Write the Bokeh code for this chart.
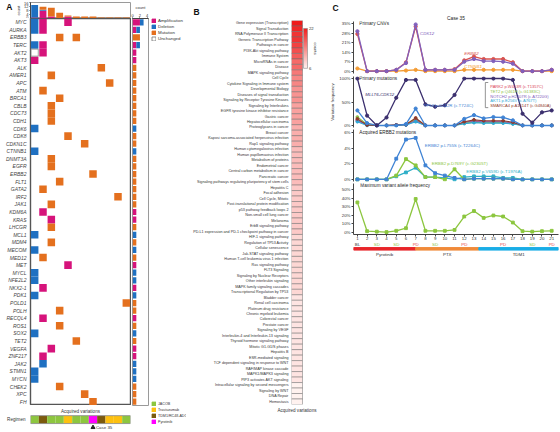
import numpy as np
from bokeh.plotting import figure
from bokeh.layouts import row, column
from bokeh.models import (FactorRange, Range1d, FixedTicker, Label, Legend, LegendItem,
                          LinearColorMapper, ColumnDataSource, Title, LinearAxis)
from bokeh.transform import transform
from bokeh.embed import file_html
from bokeh.resources import INLINE

FONT = "Liberation Sans"
W_END, H_END = 559, 431


def px(v):
    return int(round(v))


def fs(v):
    return f"{v:.2f}px"


# ---------------- Panel A data ----------------
genes = ["MYC", "AURKA", "ERBB3", "TERC", "AKT2", "AKT3", "ALK", "AMER1", "APC", "ATM", "BRCA1",
         "CBLB", "CDC73", "CDH1", "CDK6", "CDK8", "CDKN1C", "CTNNB1", "DNMT3A", "EGFR", "ERBB2",
         "FLT1", "GATA2", "IRF2", "JAK1", "KDM6A", "KRAS", "LHCGR", "MCL1", "MDM4", "MECOM",
         "MED12", "MET", "MYCL", "NFE2L2", "NKX2-1", "PDK1", "POLD1", "POLH", "RECQL4", "ROS1",
         "SOX2", "TET2", "VEGFA", "ZNF217", "JAK2", "STMN1", "MYCN", "CHEK2", "XPC", "FH"]
amp_genes = ["MYC", "MYC", "AURKA", "TERC", "AKT2", "AKT3", "KDM6A", "KRAS", "MET", "NKX2-1",
             "RECQL4", "VEGFA", "ZNF217"]
amp_cols = [2, 5, 2, 2, 2, 1, 2, 3, 5, 2, 2, 3, 2]
del_genes = ["MYC", "AURKA", "TERC", "CDK6", "CTNNB1", "MCL1", "MECOM", "MYCL", "NFE2L2", "PDK1",
             "SOX2", "JAK2", "STMN1", "MYCN"]
del_cols = [1, 1, 1, 1, 1, 1, 1, 1, 1, 1, 1, 2, 1, 1]
mut_genes = ["ERBB3", "ERBB3", "ALK", "AMER1", "APC", "ATM", "BRCA1", "CBLB", "CDC73", "CDH1",
             "CDK8", "CDKN1C", "DNMT3A", "EGFR", "ERBB2", "FLT1", "GATA2", "IRF2", "JAK1", "LHCGR",
             "MDM4", "MED12", "POLD1", "POLH", "ROS1", "TET2", "CHEK2", "XPC", "FH"]
mut_cols = [4, 6, 9, 3, 10, 2, 4, 3, 3, 3, 5, 7, 3, 3, 8, 4, 2, 11, 3, 3, 3, 2, 12, 4, 4, 6, 4, 7, 8]
unch_genes = ["AKT2"]
unch_cols = [1]
n_cols = 12
regimen = ["JACOB", "TDM1/RC48-ADC", "JACOB", "JACOB", "Trastuzumab", "JACOB", "JACOB",
           "Pyrotinib", "TDM1/RC48-ADC", "Trastuzumab", "Trastuzumab", "JACOB"]
regimen_names = ["JACOB", "Trastuzumab", "TDM1/RC48-ADC", "Pyrotinib"]
case_col = 8
case_label = "Case 35"

# ---------------- Panel B data ----------------
pathways = [
    "Gene expression (Transcription)", "Signal Transduction", "RNA Polymerase II Transcription",
    "Generic Transcription Pathway", "Pathways in cancer", "PI3K-Akt signaling pathway",
    "Immune System", "MicroRNAs in cancer", "Disease", "MAPK signaling pathway", "Cell Cycle",
    "Cytokine Signaling in Immune system", "Developmental Biology",
    "Diseases of signal transduction", "Signaling by Receptor Tyrosine Kinases",
    "Signaling by Interleukins", "EGFR tyrosine kinase inhibitor resistance", "Gastric cancer",
    "Hepatocellular carcinoma", "Proteoglycans in cancer", "Breast cancer",
    "Kaposi sarcoma-associated herpesvirus infection", "Rap1 signaling pathway",
    "Human cytomegalovirus infection", "Human papillomavirus infection", "Metabolism of proteins",
    "Endometrial cancer", "Central carbon metabolism in cancer", "Pancreatic cancer",
    "Signaling pathways regulating pluripotency of stem cells", "Hepatitis C", "Focal adhesion",
    "Cell Cycle, Mitotic", "Post-translational protein modification",
    "p53 pathway feedback loops 2", "Non-small cell lung cancer", "Melanoma",
    "ErbB signaling pathway", "PD-L1 expression and PD-1 checkpoint pathway in cancer",
    "HIF-1 signaling pathway", "Regulation of TP53 Activity", "Cellular senescence",
    "Jak-STAT signaling pathway", "Human T-cell leukemia virus 1 infection",
    "Ras signaling pathway", "FLT3 Signaling", "Signaling by Nuclear Receptors",
    "Other interleukin signaling", "MAPK family signaling cascades",
    "Transcriptional Regulation by TP53", "Bladder cancer", "Renal cell carcinoma",
    "Platinum drug resistance", "Chronic myeloid leukemia", "Colorectal cancer",
    "Prostate cancer", "Signaling by VEGF", "Interleukin-4 and Interleukin-13 signaling",
    "Thyroid hormone signaling pathway", "Mitotic G1-G1/S phases", "Hepatitis B",
    "ESR-mediated signaling", "TCF dependent signaling in response to WNT",
    "RAF/MAP kinase cascade", "MAPK1/MAPK3 signaling", "PIP3 activates AKT signaling",
    "Intracellular signaling by second messengers", "Signaling by WNT", "DNA Repair",
    "Hemostasis"]
pathway_counts = [22, 21, 20, 20, 19, 18, 17, 16, 16, 15, 14, 14, 13, 13, 13, 12, 12, 12, 12, 11,
                  11, 11, 11, 10, 10, 10, 10, 10, 10, 10, 9, 9, 9, 9, 9, 9, 9, 9, 9, 8,
                  8, 8, 8, 8, 8, 8, 8, 8, 8, 8, 7, 7, 7, 7, 7, 7, 7, 7, 7, 7,
                  7, 7, 7, 7, 7, 7, 6, 6, 6, 6]
count_ticks = [6, 22]

# ---------------- Panel C data ----------------
tp = list(range(1, 22))
cnv_cdk12 = [29.5, 0, 0, 0, 1, 6, 34.5, 1, 1, 1, 1, 7, 9, 7.5, 7.5, 7, 5.5, 0, 0, 0, 1]
cnv_erbb2 = [27.5, 0, 0, 0, 1, 6.5, 33, 1, 1, 1, 1.5, 8, 10.8, 9, 9, 9, 6.6, 0, 0, 0, 1]
cnv_ctnnb1 = [2, 0, 0, 0, 0, 0.5, 1, 0, 0, 0, 0, 1, 1, 1, 1, 1, 1, 0, 0, 0, 0]
mut_mllt6 = [100, 21, 0, 17, 59, 97, 97, 45, 40, 43, 65, 100, 100, 100, 100, 100, 97, 25, 6, 28, 32]
mut_tp53 = [32, 5, 0, 0, 0, 3, 36, 0, 0, 0, 0, 14, 22, 15, 18, 17, 11, 0, 0, 0, 0]
mut_park2 = [12, 1, 0, 0, 1, 2, 12, 0, 0, 0, 0, 6, 9, 8, 8, 8, 5, 0, 0, 0, 0]
mut_tet2 = [18, 2, 0, 0, 1, 2, 14, 0, 0, 0, 0, 5, 7, 6, 6, 6, 4, 0, 0, 0, 0]
mut_notch2 = [10, 1, 0, 0, 1, 1, 10, 0, 0, 0, 0, 7, 10, 8, 8, 8, 6, 0, 0, 0, 0]
mut_akt1 = [8, 0, 0, 0, 0, 1, 8, 0, 0, 0, 0, 4, 6, 5, 5, 5, 3, 0, 0, 0, 0]
mut_smarca4 = [14, 1, 0, 0, 1, 2, 16, 0, 0, 0, 0, 8, 12, 10, 10, 10, 7, 0, 0, 0, 0]
box_labels = ["PARK2 p.W453R (c.T1357C)", "TET2 p.Q461H (c.G1383C)", "NOTCH2 p.H2407R (c.A7220G)",
              "AKT1 p.E256V (c.A767T)", "SMARCA4 p.A1614T (c.G4840A)"]
erbb2_l755s = [0, 0, 0, 0, 2.65, 5.1, 5.3, 1.8, 0.8, 0.5, 0.2, 0, 0.1, 0.1, 0.1, 0.1, 0, 0, 0, 0, 0]
erbb2_d769y = [0, 0, 0, 0, 0.5, 2.6, 1.8, 0.3, 0.3, 0, 1.3, 0, 0.1, 0.1, 0.1, 0.1, 0, 0, 0, 0, 0]
erbb2_v659d = [0, 0, 0, 0, 0.4, 0.9, 1.5, 0.3, 0.3, 0.2, 0, 0.3, 0.4, 0.4, 0.4, 0.2, 0.2, 0, 0, 0, 0]
max_vaf = [35, 1.5, 1, 0.5, 2, 5, 39, 2, 2, 2, 3, 18.6, 25, 17, 19.8, 18.6, 11.6, 1.5, 1, 1.5, 2]
response = ["BL", "", "SD", "", "SD", "", "PD", "", "SD", "", "", "PD", "", "", "", "PD", "", "",
            "SD", "", "PD"]
treat_names = ["Pyrotinib", "PTX", "TDM1"]
treat_start = [0.6, 7.0, 13.5]
treat_end = [7.0, 13.5, 21.7]

# ---------------- styles ----------------
AMP, DEL, MUT = "#D6137B", "#1F70C1", "#E4701E"
REG_COL = {"JACOB": "#8DC63F", "Trastuzumab": "#FDC010", "TDM1/RC48-ADC": "#7B5A0E",
           "Pyrotinib": "#FF00FF"}
RESP_COL = {"BL": "#333333", "SD": "#8DC63F", "PD": "#E8454A", "": "#ffffff"}
TREAT_COL = ["#E8252A", "#F08A3A", "#1AADE6"]


def mk(x0, x1, y0, y1, fx0, fx1, fy0, fy1, **kw):
    p = figure(width=px(x1) - px(x0), height=px(y1) - px(y0),
               min_border_left=px(fx0) - px(x0), min_border_right=px(x1) - px(fx1),
               min_border_top=px(fy0) - px(y0), min_border_bottom=px(y1) - px(fy1),
               output_backend="svg", toolbar_location=None, title=None, **kw)
    p.grid.visible = False
    p.outline_line_color = None
    return p


def to_data(ref, f0, f1, r0, r1):
    """map a reference-pixel position to data units, given frame pixels f0->f1 for r0->r1"""
    return r0 + (ref - f0) * (r1 - r0) / (f1 - f0)


def style_axis(ax, size=4.4, color="#444444"):
    ax.major_label_text_font_size = fs(size)
    ax.major_label_text_font = FONT
    ax.major_label_text_color = "#333333"
    ax.axis_label_text_font = FONT
    ax.axis_label_text_font_size = fs(size)
    ax.axis_label_text_font_style = "normal"
    ax.axis_label_text_color = "#333333"
    ax.minor_tick_line_color = None
    ax.major_tick_out = 2
    ax.major_tick_in = 0
    ax.major_label_standoff = 1
    ax.axis_label_standoff = 1
    ax.axis_line_color = color
    ax.major_tick_line_color = color


LETTER_SIZE = fs(8.5)

# ================= Panel A =================
cols = list(range(1, n_cols + 1))
col_amp = [amp_cols.count(c) for c in cols]
col_del = [del_cols.count(c) for c in cols]
col_mut = [mut_cols.count(c) for c in cols]
gene_amp = [amp_genes.count(g) for g in genes]
gene_del = [del_genes.count(g) for g in genes]
gene_mut = [mut_genes.count(g) for g in genes]
kinds = ["Amplification", "Deletion", "Mutation"]

xA = Range1d(0.5, n_cols + 0.5)
yA = FactorRange(factors=genes[::-1])
A_FX = (29.5, 130)
A_TOP_FY = (2.5, 18)
top_max = 16.5

fA_top = mk(0, 131, 0, 18, A_FX[0], A_FX[1], A_TOP_FY[0], A_TOP_FY[1], x_range=xA,
            y_range=Range1d(0, top_max), x_axis_location=None)
src_top = ColumnDataSource(dict(col=cols, Amplification=col_amp, Deletion=col_del,
                                Mutation=col_mut))
fA_top.vbar_stack(kinds, x="col", width=0.82, color=[AMP, DEL, MUT], line_color=None,
                  source=src_top)
fA_top.outline_line_color = "#9a9a9a"
style_axis(fA_top.yaxis[0], 4.0)
fA_top.yaxis[0].ticker = FixedTicker(ticks=[0, 4, 8, 12, 16])
fA_top.yaxis[0].axis_label = "count"
fA_top.yaxis[0].major_tick_out = 1
fA_top.yaxis[0].axis_label_standoff = 0
# panel letter "A" as the single tick label of an outer left axis
a_tick = round(to_data(6.5, A_TOP_FY[1], A_TOP_FY[0], 0, top_max), 3)
ax_letter = LinearAxis(ticker=FixedTicker(ticks=[a_tick]), major_label_overrides={a_tick: "A"},
                       axis_line_color=None, major_tick_line_color=None,
                       minor_tick_line_color=None, major_tick_out=0, major_tick_in=0,
                       major_label_standoff=1, major_label_text_font=FONT,
                       major_label_text_font_style="bold", major_label_text_font_size=LETTER_SIZE,
                       major_label_text_color="#111111")
fA_top.add_layout(ax_letter, "left")

fA_heat = mk(0, 131, 18, 405, A_FX[0], A_FX[1], 18, 405, x_range=xA, y_range=yA,
             x_axis_location=None)
fA_heat.rect(x=amp_cols, y=amp_genes, width=0.9, height=1, fill_color=AMP, line_color=None)
fA_heat.rect(x=del_cols, y=del_genes, width=0.9, height=1, fill_color=DEL, line_color=None)
fA_heat.rect(x=mut_cols, y=mut_genes, width=0.9, height=1, fill_color=MUT, line_color=None)
fA_heat.rect(x=unch_cols, y=unch_genes, width=0.86, height=0.92, fill_color="white",
             line_color="#888888", line_width=0.8)
fA_heat.outline_line_color = "#555555"
fA_heat.outline_line_width = 1.4
ya = fA_heat.yaxis[0]
style_axis(ya, 5.0)
ya.major_label_text_font_style = "italic"
ya.major_label_text_color = "#444444"
ya.axis_line_color = None
ya.major_tick_line_color = None
ya.major_label_standoff = 2

fA_reg = mk(0, 131, 405, H_END, A_FX[0], A_FX[1], 412, H_END, x_range=xA,
            y_range=Range1d(-1.5, 0.77), x_axis_location="above")
fA_reg.rect(x=cols, y=0, width=1, height=1, fill_color=[REG_COL[r] for r in regimen],
            line_color=None)
fA_reg.rect(x=(n_cols + 1) / 2, y=0, width=n_cols, height=1, fill_color=None,
            line_color="#888888", line_width=0.8)
fA_reg.scatter(x=[case_col], y=[-0.98], marker="triangle", size=4, color="#222222")
fA_reg.text(x=[case_col + 0.35], y=[-0.98], text=[case_label], text_font_size=fs(4.4),
            text_baseline="middle", text_align="left", text_color="#333333")
xa = fA_reg.xaxis[0]
style_axis(xa, 4.6)
xa.ticker = FixedTicker(ticks=[])
xa.axis_label = "Acquired variations"
xa.axis_line_color = None
xa.axis_label_standoff = 0
yreg = fA_reg.yaxis[0]
style_axis(yreg, 4.6)
yreg.ticker = FixedTicker(ticks=[0])
yreg.major_label_overrides = {0: "Regimen"}
yreg.axis_line_color = None
yreg.major_tick_line_color = None
yreg.major_label_standoff = 3

fA_right = mk(131, 150, 0, H_END, 131.5, 148, 18, 405, x_range=Range1d(-0.05, 4.35),
              y_range=yA, x_axis_location="above", y_axis_location=None)
src_g = ColumnDataSource(dict(gene=genes, Amplification=gene_amp, Deletion=gene_del,
                              Mutation=gene_mut))
fA_right.hbar_stack(kinds, y="gene", height=0.82, color=[AMP, DEL, MUT], line_color=None,
                    source=src_g)
fA_right.outline_line_color = "#9a9a9a"
xr = fA_right.xaxis[0]
style_axis(xr, 4.0)
xr.ticker = FixedTicker(ticks=[0, 2, 4])
xr.axis_label = "count"
xr.major_tick_out = 1


def legend_fig(x0, x1, y0, y1, fx0, fy0, fy1, names, fills, lines, loc, size):
    p = mk(x0, x1, y0, y1, fx0, x1, fy0, fy1, x_range=Range1d(0, 1), y_range=Range1d(0, 1),
           x_axis_location=None, y_axis_location=None)
    items = []
    for n, fc, lc in zip(names, fills, lines):
        r = p.rect(x=[np.nan], y=[np.nan], width=1, height=1, fill_color=fc, line_color=lc,
                   line_width=0.8)
        items.append(LegendItem(label=n, renderers=[r]))
    lg = Legend(items=items, location=loc, border_line_color=None, background_fill_alpha=0,
                padding=0, margin=0, spacing=1, glyph_height=5, glyph_width=5,
                label_height=5, label_standoff=2, label_text_font=FONT,
                label_text_font_size=fs(size), label_text_color="#333333")
    p.add_layout(lg)
    return p


A_END = 186
fA_leg1 = legend_fig(150, A_END, 0, 200, 151, 18.5, 200, kinds + ["Unchanged"],
                     [AMP, DEL, MUT, "white"], [AMP, DEL, MUT, "#777777"], "top_left", 4.4)
fA_leg2 = legend_fig(150, A_END, 200, H_END, 151, 200, 424.5, regimen_names,
                     [REG_COL[n] for n in regimen_names], [REG_COL[n] for n in regimen_names],
                     "bottom_left", 3.65)

panelA = row(column(fA_top, fA_heat, fA_reg), fA_right, column(fA_leg1, fA_leg2))


# ================= Panel B =================
def lerp_palette(c0, c1, n):
    a = np.array([int(c0[i:i + 2], 16) for i in (1, 3, 5)], dtype=float)
    b = np.array([int(c1[i:i + 2], 16) for i in (1, 3, 5)], dtype=float)
    out = []
    for t in np.linspace(0, 1, n):
        c = a + (b - a) * t
        out.append("#%02x%02x%02x" % tuple(int(round(v)) for v in c))
    return out


lo, hi = min(count_ticks), max(count_ticks)
mapper = LinearColorMapper(palette=lerp_palette("#FFF2EF", "#EF1A1A", 256), low=lo, high=hi)
B_END = 327
B_FX = (291, 325)
B_FY = (19, 404.4)
CELL_W = 11.0
n_p = len(pathways)
xB_max = (B_FX[1] - B_FX[0]) / CELL_W
bx = "Acquired variations"
fB = mk(A_END, B_END, 0, H_END, B_FX[0], B_FX[1], B_FY[0], B_FY[1],
        x_range=Range1d(0, xB_max), y_range=FactorRange(factors=pathways[::-1]))
src_b = ColumnDataSource(dict(y=pathways, c=pathway_counts))
fB.rect(x=0.5, y="y", width=1, height=1, fill_color=transform("c", mapper),
        line_color="#6f6f6f", line_width=0.5, source=src_b)
for ax, size in ((fB.xaxis[0], 4.6), (fB.yaxis[0], 3.7)):
    style_axis(ax, size)
    ax.axis_line_color = None
    ax.major_tick_line_color = None
    ax.major_label_standoff = 1
fB.xaxis[0].ticker = FixedTicker(ticks=[0.5])
fB.xaxis[0].major_label_overrides = {0.5: bx}
fB.add_layout(Title(text="B", align="left", offset=-(B_FX[0] - 193), standoff=8,
                    text_font=FONT, text_font_size=LETTER_SIZE, text_font_style="bold",
                    text_color="#111111"), "above")


def bxd(xref):
    return to_data(xref, B_FX[0], B_FX[1], 0, xB_max)


def byd(yref):
    return to_data(yref, B_FY[1], B_FY[0], 0, n_p)


# colour bar drawn in the same frame, between y=27 (high) and y=67 (low)
CB_X, CB_Y = (303, 307), (27, 67)
grad = np.linspace(lo, hi, 128).reshape(-1, 1)
fB.image(image=[grad], x=bxd(CB_X[0]), y=byd(CB_Y[1]), dw=bxd(CB_X[1]) - bxd(CB_X[0]),
         dh=byd(CB_Y[0]) - byd(CB_Y[1]), color_mapper=mapper)
fB.rect(x=(bxd(CB_X[0]) + bxd(CB_X[1])) / 2, y=(byd(CB_Y[0]) + byd(CB_Y[1])) / 2,
        width=bxd(CB_X[1]) - bxd(CB_X[0]), height=byd(CB_Y[0]) - byd(CB_Y[1]),
        fill_color=None, line_color="#888888", line_width=0.6)
fB.text(x=[bxd(CB_X[1] + 1.5)] * 2, y=[byd(CB_Y[0]), byd(CB_Y[1])],
        text=[str(hi), str(lo)], text_font_size=fs(4.2), text_baseline="middle",
        text_align="left", text_color="#333333")
fB.text(x=[bxd(315)], y=[byd(47)], text=["counts"], angle=-np.pi / 2, text_font_size=fs(4.2),
        text_baseline="middle", text_align="center", text_color="#333333")

panelB = fB

# ================= Panel C =================
C_FX = (351, 558)
xC = Range1d(0.6, 21.7)


def mkC(y0, y1, fy0, fy1, yr, ticks, xaxis=False):
    p = mk(B_END, W_END, y0, y1, C_FX[0], C_FX[1], fy0, fy1, x_range=xC, y_range=yr,
           x_axis_location="below" if xaxis else None)
    ax = p.yaxis[0]
    style_axis(ax, 4.4)
    ax.ticker = FixedTicker(ticks=ticks)
    ax.major_label_overrides = {t: f"{t}%" for t in ticks}
    return p


def series(p, vals, color, marker="circle", size=3.2, lw=1.3):
    p.line(tp, vals, line_color=color, line_width=lw)
    p.scatter(tp, vals, marker=marker, size=size, fill_color=color, line_color=color)


def note(p, x, y, text, color="#222222", italic=False, size=4.4, align="left"):
    p.add_layout(Label(x=x, y=y, text=text, text_color=color, text_font=FONT,
                       text_font_size=fs(size), text_font_style="italic" if italic else "normal",
                       text_baseline="middle", text_align=align))


C_PURPLE, C_RED, C_ORANGE = "#8160BC", "#D9534F", "#F39C34"
C_DARK, C_BLUE, C_GREEN, C_CYAN = "#3B2F6E", "#3F83D4", "#8CC63F", "#2FAFC8"
BOX_COL = ["#D9435A", "#8DBF4A", "#8160BC", "#2FA8D5", "#8E3B2C"]

C1_FY, C1_R = (21, 73), (-1.7, 36.7)
fC1 = mkC(0, 74, C1_FY[0], C1_FY[1], Range1d(*C1_R), [0, 7, 14, 21, 28, 35])
series(fC1, cnv_ctnnb1, C_ORANGE)
series(fC1, cnv_erbb2, C_RED)
series(fC1, cnv_cdk12, C_PURPLE)
note(fC1, 1.2, 35, "Primary CNVs", size=4.7)
note(fC1, 7.45, 27.8, "CDK12", C_PURPLE, True)
note(fC1, 12.0, 13.3, "ERBB2", C_RED, True)
note(fC1, 12.0, 3.7, "CTNNB1", C_ORANGE, True)
fC1.add_layout(Title(text=case_label, align="center", standoff=2, text_font=FONT,
                     text_font_size=fs(4.8), text_font_style="normal", text_color="#222222"),
               "above")
fC1.add_layout(Title(text="C", align="left", offset=-(C_FX[0] - 330), standoff=0,
                     text_font=FONT, text_font_size=LETTER_SIZE, text_font_style="bold",
                     text_color="#111111"), "above")

fC2 = mkC(74, 128, 76, 127, Range1d(-4.3, 104.3), [0, 50, 100])
fC2.yaxis[0].axis_label = "Variation frequency"
for vals, c in zip([mut_park2, mut_tet2, mut_notch2, mut_akt1, mut_smarca4], BOX_COL):
    series(fC2, vals, c, size=2.8, lw=1.1)
series(fC2, mut_tp53, C_BLUE)
series(fC2, mut_mllt6, C_DARK)
note(fC2, 1.2, 100, "Primary mutations", size=4.7)
note(fC2, 1.82, 66, "MLLT6-CDK12", C_DARK, True)
note(fC2, 7.8, 42.5, "TP53 p.C242R (c.T724C)", C_BLUE)
box_y = list(np.linspace(83, 42.5, len(box_labels)))
fC2.text(x=[14.67] * len(box_labels), y=box_y, text=box_labels, text_color=BOX_COL,
         text_font_size=fs(4.1), text_baseline="middle", text_align="left")
bx0 = 14.67 - 0.5
fC2.line(x=[bx0 + 0.3, bx0, bx0, bx0 + 0.3], y=[box_y[0] + 8.5, box_y[0] + 8.5,
                                                 box_y[-1] - 4.5, box_y[-1] - 4.5],
         line_color="#777777", line_width=0.8)

fC3 = mkC(128, 182, 129, 181, Range1d(-0.26, 6.38), [0, 2, 4, 6])
series(fC3, erbb2_v659d, C_CYAN, "square", 2.8)
series(fC3, erbb2_d769y, C_GREEN, "square", 2.8)
series(fC3, erbb2_l755s, C_BLUE, "square", 2.8)
note(fC3, 1.2, 5.95, "Acquired ERBB2 mutations", size=4.7)
note(fC3, 7.94, 4.34, "ERBB2 p.L755S (c.T2264C)", C_BLUE)
note(fC3, 8.65, 2.08, "ERBB2 p.D769Y (c.G2305T)", C_GREEN)
note(fC3, 12.2, 1.06, "ERBB2 p.V659D (c.T1976A)", C_CYAN)

fC4 = mkC(182, 242, 183, 234, Range1d(-2.33, 57), [0, 10, 20, 30, 40, 50], xaxis=True)
series(fC4, max_vaf, C_GREEN, "square", 2.8)
note(fC4, 1.3, 54.7, "Maximum variant allele frequency", size=4.7)
xc = fC4.xaxis[0]
style_axis(xc, 4.4)
xc.ticker = FixedTicker(ticks=tp)
xc.major_label_standoff = 0

fC_tr = mk(B_END, W_END, 242, 262, C_FX[0], C_FX[1], 242, 261, x_range=xC,
           y_range=Range1d(0, 3), x_axis_location=None, y_axis_location=None)
fC_tr.text(x=tp, y=[2.7] * len(tp), text=response, text_color=[RESP_COL[r] for r in response],
           text_font_size=fs(4.4), text_baseline="middle", text_align="center")
fC_tr.hbar(y=2.0, left=treat_start, right=treat_end, height=0.4, color=TREAT_COL)
fC_tr.text(x=[(a + b) / 2 for a, b in zip(treat_start, treat_end)], y=[1.15] * 3,
           text=treat_names, text_color="#333333", text_font_size=fs(4.4),
           text_baseline="middle", text_align="center")

panelC = column(fC1, fC2, fC3, fC4, fC_tr)

layout = row(panelA, panelB, panelC)
open("out.html", "w").write(file_html(layout, INLINE))
